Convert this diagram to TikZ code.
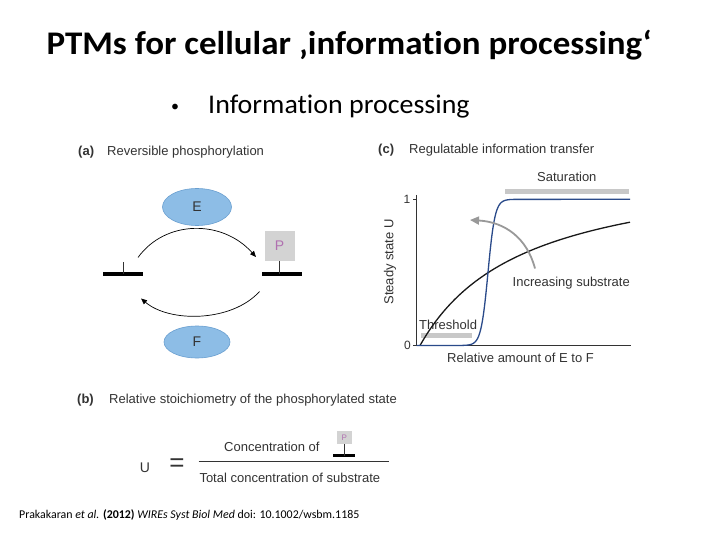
\documentclass[tikz,border=0pt]{standalone}
\usepackage{fontspec}
\setmainfont{Liberation Sans}
\newfontfamily\calfont[Ligatures=NoCommon]{Carlito}
\usetikzlibrary{arrows.meta,shapes.geometric}
\definecolor{ellfill}{HTML}{8DBDE6}
\definecolor{elldraw}{HTML}{6A9FD0}
\definecolor{boxgrey}{HTML}{D3D3D3}
\definecolor{pcol}{HTML}{B070B0}
\definecolor{curveblue}{HTML}{2A4A8A}
\definecolor{bargrey}{HTML}{C8C8C8}
\definecolor{arrgrey}{HTML}{999999}
\definecolor{txt}{HTML}{333333}
\tikzset{
  lbl/.style={inner sep=0pt, anchor=west, text=txt, font=\fontsize{13}{15}\selectfont},
  plbl/.style={inner sep=0pt, anchor=west, text=txt, font=\fontsize{13}{15}\selectfont\bfseries},
  enz/.style={ellipse, fill=ellfill, draw=elldraw, line width=0.6pt, text=txt, font=\fontsize{14}{16}\selectfont, inner sep=0pt},
  pbox/.style={fill=boxgrey, inner sep=0pt, text=pcol, font=\fontsize{14}{16}\selectfont},
  sub/.style={line width=4pt, black},
  stem/.style={line width=0.7pt, black!80},
  reac/.style={line width=0.7pt, black, -{Triangle[length=6pt,width=5pt]}},
  gbar/.style={line width=5pt, bargrey},
}
\begin{document}
\begin{tikzpicture}[x=1pt,y=-1pt]
\useasboundingbox (0,0) rectangle (720,540);
\fill[white] (0,0) rectangle (720,540);
% title
\node[inner sep=0pt, anchor=base, xscale=1.06, font=\calfont\bfseries\fontsize{33}{36}\selectfont] (title) at (349,54.5) {PTMs for cellular ‚information processing‘};
\node[inner sep=0pt, anchor=center, font=\calfont\fontsize{16}{18}\selectfont] (bul) at (175,108.3) {•};
\node[inner sep=0pt, anchor=base west, xscale=1.035, font=\calfont\fontsize{27}{30}\selectfont] (subt) at (208,114) {Information processing};

% ---------- panel (a)
\node[plbl] (pa) at (78,152) {(a)};
\node[lbl] (ta) at (107,152) {Reversible phosphorylation};
\node[enz, minimum width=69pt, minimum height=37pt] (E) at (197,207) {E};
\node[enz, minimum width=66pt, minimum height=32pt] (F) at (197,342) {F};
\coordinate (lb1) at (103,274);
\coordinate (lb2) at (143,274);
\coordinate (lt) at (123,261.5);
\coordinate (lt0) at (123,274);
\draw[sub] (lb1) -- (lb2);
\draw[stem] (lt0) -- (lt);
\coordinate (rb1) at (262,274);
\coordinate (rb2) at (302,274);
\node[pbox, minimum width=30pt, minimum height=30pt] (P) at (279.5,246) {P};
\coordinate (rt0) at (279.5,274);
\draw[sub] (rb1) -- (rb2);
\draw[stem] (rt0) -- (P.south);
\coordinate (u1) at (138,257.5);
\coordinate (u2) at (256,257);
\draw[reac] (u1) .. controls (165,220) and (222,219) .. (u2);
\coordinate (d1) at (259.5,291.5);
\coordinate (d2) at (141,298.5);
\draw[reac] (d1) .. controls (232,322) and (170,323) .. (d2);

% ---------- panel (c)
\node[plbl] (pc) at (378,150) {(c)};
\node[lbl] (tc) at (409,150) {Regulatable information transfer};
\coordinate (o) at (416.7,345.5);
\coordinate (ytop) at (416.7,195);
\coordinate (xend) at (631,345.5);
\draw[line width=0.8pt, txt] (ytop) -- (o) -- (xend);
\coordinate (t1a) at (413,199.3);
\coordinate (t1b) at (416.7,199.3);
\coordinate (t0a) at (413,345.5);
\draw[line width=0.8pt, txt] (t1a) -- (t1b);
\draw[line width=0.8pt, txt] (t0a) -- (o);
\node[lbl, anchor=center, font=\fontsize{12}{14}\selectfont] (one) at (407,199) {1};
\node[lbl, anchor=center, font=\fontsize{12}{14}\selectfont] (zero) at (407.5,345) {0};
\node[lbl, anchor=center, rotate=90] (yl) at (390,262) {Steady state U};
\node[lbl] (xl) at (447,358) {Relative amount of E to F};
% grey bars
\coordinate (s1) at (505,192);
\coordinate (s2) at (629,192);
\draw[gbar] (s1) -- (s2);
\node[lbl] (sat) at (537,176.5) {Saturation};
\coordinate (th1) at (421,335.7);
\coordinate (th2) at (472,335.7);
\draw[gbar] (th1) -- (th2);
\node[lbl] (thr) at (419,324.5) {Threshold};
% curves
\draw[line width=1.3pt, black!90] plot[domain=420:630, samples=60, smooth] ({\x},{345.5-184.6*((\x-420)/(\x-315.6))});
\draw[line width=1.3pt, curveblue] (o) -- (462,345.5) -- plot[domain=462:514, samples=80, smooth] ({\x},{345.5-146.2/(1+exp(-(\x-488)/3.5))}) -- (630,199.3);
% grey arrow
\coordinate (g1) at (535,268.5);
\coordinate (g2) at (470,220);
\draw[line width=1.8pt, arrgrey, -{Triangle[length=9pt,width=8pt]}] (g1) .. controls (527,238) and (505,222) .. (g2);
\node[lbl] (inc) at (512.5,283) {Increasing substrate};

% ---------- panel (b)
\node[plbl] (pb) at (77,400) {(b)};
\node[lbl] (tb) at (109,400.5) {Relative stoichiometry of the phosphorylated state};
\node[lbl, anchor=center, font=\fontsize{14}{16}\selectfont] (U) at (145,467.5) {U};
\node[lbl, anchor=center, font=\fontsize{26}{28}\selectfont] (eq) at (177,465) {=};
\coordinate (f1) at (198.5,461.7);
\coordinate (f2) at (388.5,461.7);
\draw[line width=0.8pt, txt] (f1) -- (f2);
\node[lbl] (num) at (224,446.5) {Concentration of};
\node[lbl] (den) at (199.3,477.5) {Total concentration of substrate};
\node[pbox, minimum width=15pt, minimum height=13pt, font=\fontsize{8}{9}\selectfont] (sp) at (344.2,437.5) {P};
\coordinate (sb1) at (333,455.5);
\coordinate (sb2) at (355,455.5);
\coordinate (sb0) at (344.2,455.5);
\draw[line width=3pt, black] (sb1) -- (sb2);
\draw[stem] (sb0) -- (sp.south);

% citation
\node[inner sep=0pt, anchor=west, font=\calfont\fontsize{11.9}{14}\selectfont] (cite) at (19,515) {Prakakaran \textit{et al.} \textbf{(2012)} \textit{WIREs Syst Biol Med} doi: 10.1002/wsbm.1185};
\end{tikzpicture}
\end{document}
